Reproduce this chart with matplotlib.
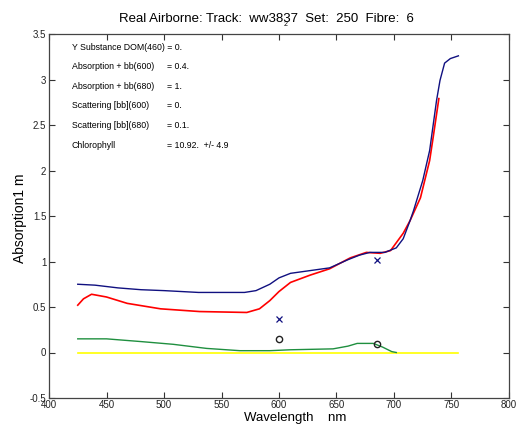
import matplotlib
matplotlib.use("Agg")
import matplotlib.pyplot as plt

plt.rcParams['font.family'] = ['Liberation Sans', 'DejaVu Sans']

# --------------------
# Data
# --------------------
blue_wl = [425, 440, 460, 480, 500, 530, 570, 580, 592, 600, 610, 627, 644, 660, 670,
           679, 692, 702, 708, 714, 717, 725, 731, 737, 740, 744, 749, 756]
blue_abs = [0.75, 0.74, 0.71, 0.69, 0.68, 0.66, 0.66, 0.68, 0.75, 0.82, 0.87, 0.90, 0.93,
            1.02, 1.07, 1.10, 1.10, 1.15, 1.25, 1.45, 1.56, 1.89, 2.22, 2.77, 2.99, 3.18,
            3.23, 3.26]

red_wl = [425, 430, 437, 450, 468, 497, 531, 572, 583, 592, 600, 610, 627, 644, 662, 676,
          688, 697, 708, 714, 723, 731, 734, 739]
red_abs = [0.52, 0.59, 0.64, 0.61, 0.54, 0.48, 0.45, 0.44, 0.48, 0.57, 0.67, 0.77, 0.85,
           0.92, 1.04, 1.10, 1.09, 1.12, 1.31, 1.45, 1.70, 2.11, 2.36, 2.79]

green_wl = [425, 450, 480, 508, 537, 566, 592, 610, 647, 660, 668, 682, 690, 698, 702]
green_abs = [0.15, 0.15, 0.12, 0.09, 0.045, 0.02, 0.02, 0.03, 0.04, 0.07, 0.10, 0.10,
             0.06, 0.01, 0.0]

yellow_wl = [425, 756]
yellow_abs = [0.0, 0.0]

cross_wl = [600, 685]
cross_abs = [0.37, 1.02]
circle_wl = [600, 685]
circle_abs = [0.15, 0.09]

info_labels = ["Y Substance DOM(460) = 0.", "Absorption + bb(600)", "Absorption + bb(680)",
               "Scattering [bb](600)", "Scattering [bb](680)", "Chlorophyll"]
info_values = ["", "= 0.4.", "= 1.", "= 0.", "= 0.1.", "= 10.92.  +/- 4.9"]
info_y = [3.35, 3.14, 2.92, 2.71, 2.49, 2.28]

x_ticks = [400, 450, 500, 550, 600, 650, 700, 750, 800]
y_ticks = [-0.5, 0, 0.5, 1, 1.5, 2, 2.5, 3, 3.5]
y_ticklabels = ["-0.5", "0", "0.5", "1", "1.5", "2", "2.5", "3", "3.5"]

W, H = 519, 426
fig = plt.figure(figsize=(W / 100, H / 100), dpi=100)
ax = fig.add_axes([49 / W, 1 - 398 / H, 460 / W, 364 / H])

ax.plot(yellow_wl, yellow_abs, color='#ffff00', lw=1.2)
ax.plot(green_wl, green_abs, color='#1f8f3f', lw=1.0)
ax.plot(red_wl, red_abs, color='#ff0000', lw=1.2)
ax.plot(blue_wl, blue_abs, color='#101080', lw=1.0)
ax.plot(cross_wl, cross_abs, 'x', color='#101080', ms=4, mew=0.9)
ax.plot(circle_wl, circle_abs, 'o', mfc='none', mec='#222222', ms=4.5, mew=1.0)

for lab, val, yy in zip(info_labels, info_values, info_y):
    ax.text(420, yy, lab, fontsize=6.3, va='center', ha='left')
    if val:
        ax.text(503, yy, val, fontsize=6.3, va='center', ha='left')

ax.set_xlim(400, 800)
ax.set_ylim(-0.5, 3.5)
ax.set_xticks(x_ticks)
ax.set_yticks(y_ticks)
ax.set_yticklabels(y_ticklabels)
ax.tick_params(direction='in', top=True, right=True, length=4, width=0.8,
               labelsize=7, pad=2, colors='#333333', labelcolor='#222222')
ax.tick_params(axis='x', pad=1.5)
for s in ax.spines.values():
    s.set_linewidth(0.9)
    s.set_color('#444444')

fig.text(266 / W, 1 - 19 / H, "Real Airborne: Track:  ww3837  Set:  250  Fibre:  6",
         ha='center', va='center', fontsize=9.5)
fig.text(286 / W, 1 - 25 / H, "2", ha='center', va='center', fontsize=5)
fig.text(295 / W, 1 - 418 / H, "Wavelength    nm", ha='center', va='center', fontsize=9.5)
fig.text(20 / W, 1 - 218 / H, "Absorption1 m", ha='center', va='center',
         rotation=90, fontsize=10)

fig.savefig("out.png", dpi=100)
